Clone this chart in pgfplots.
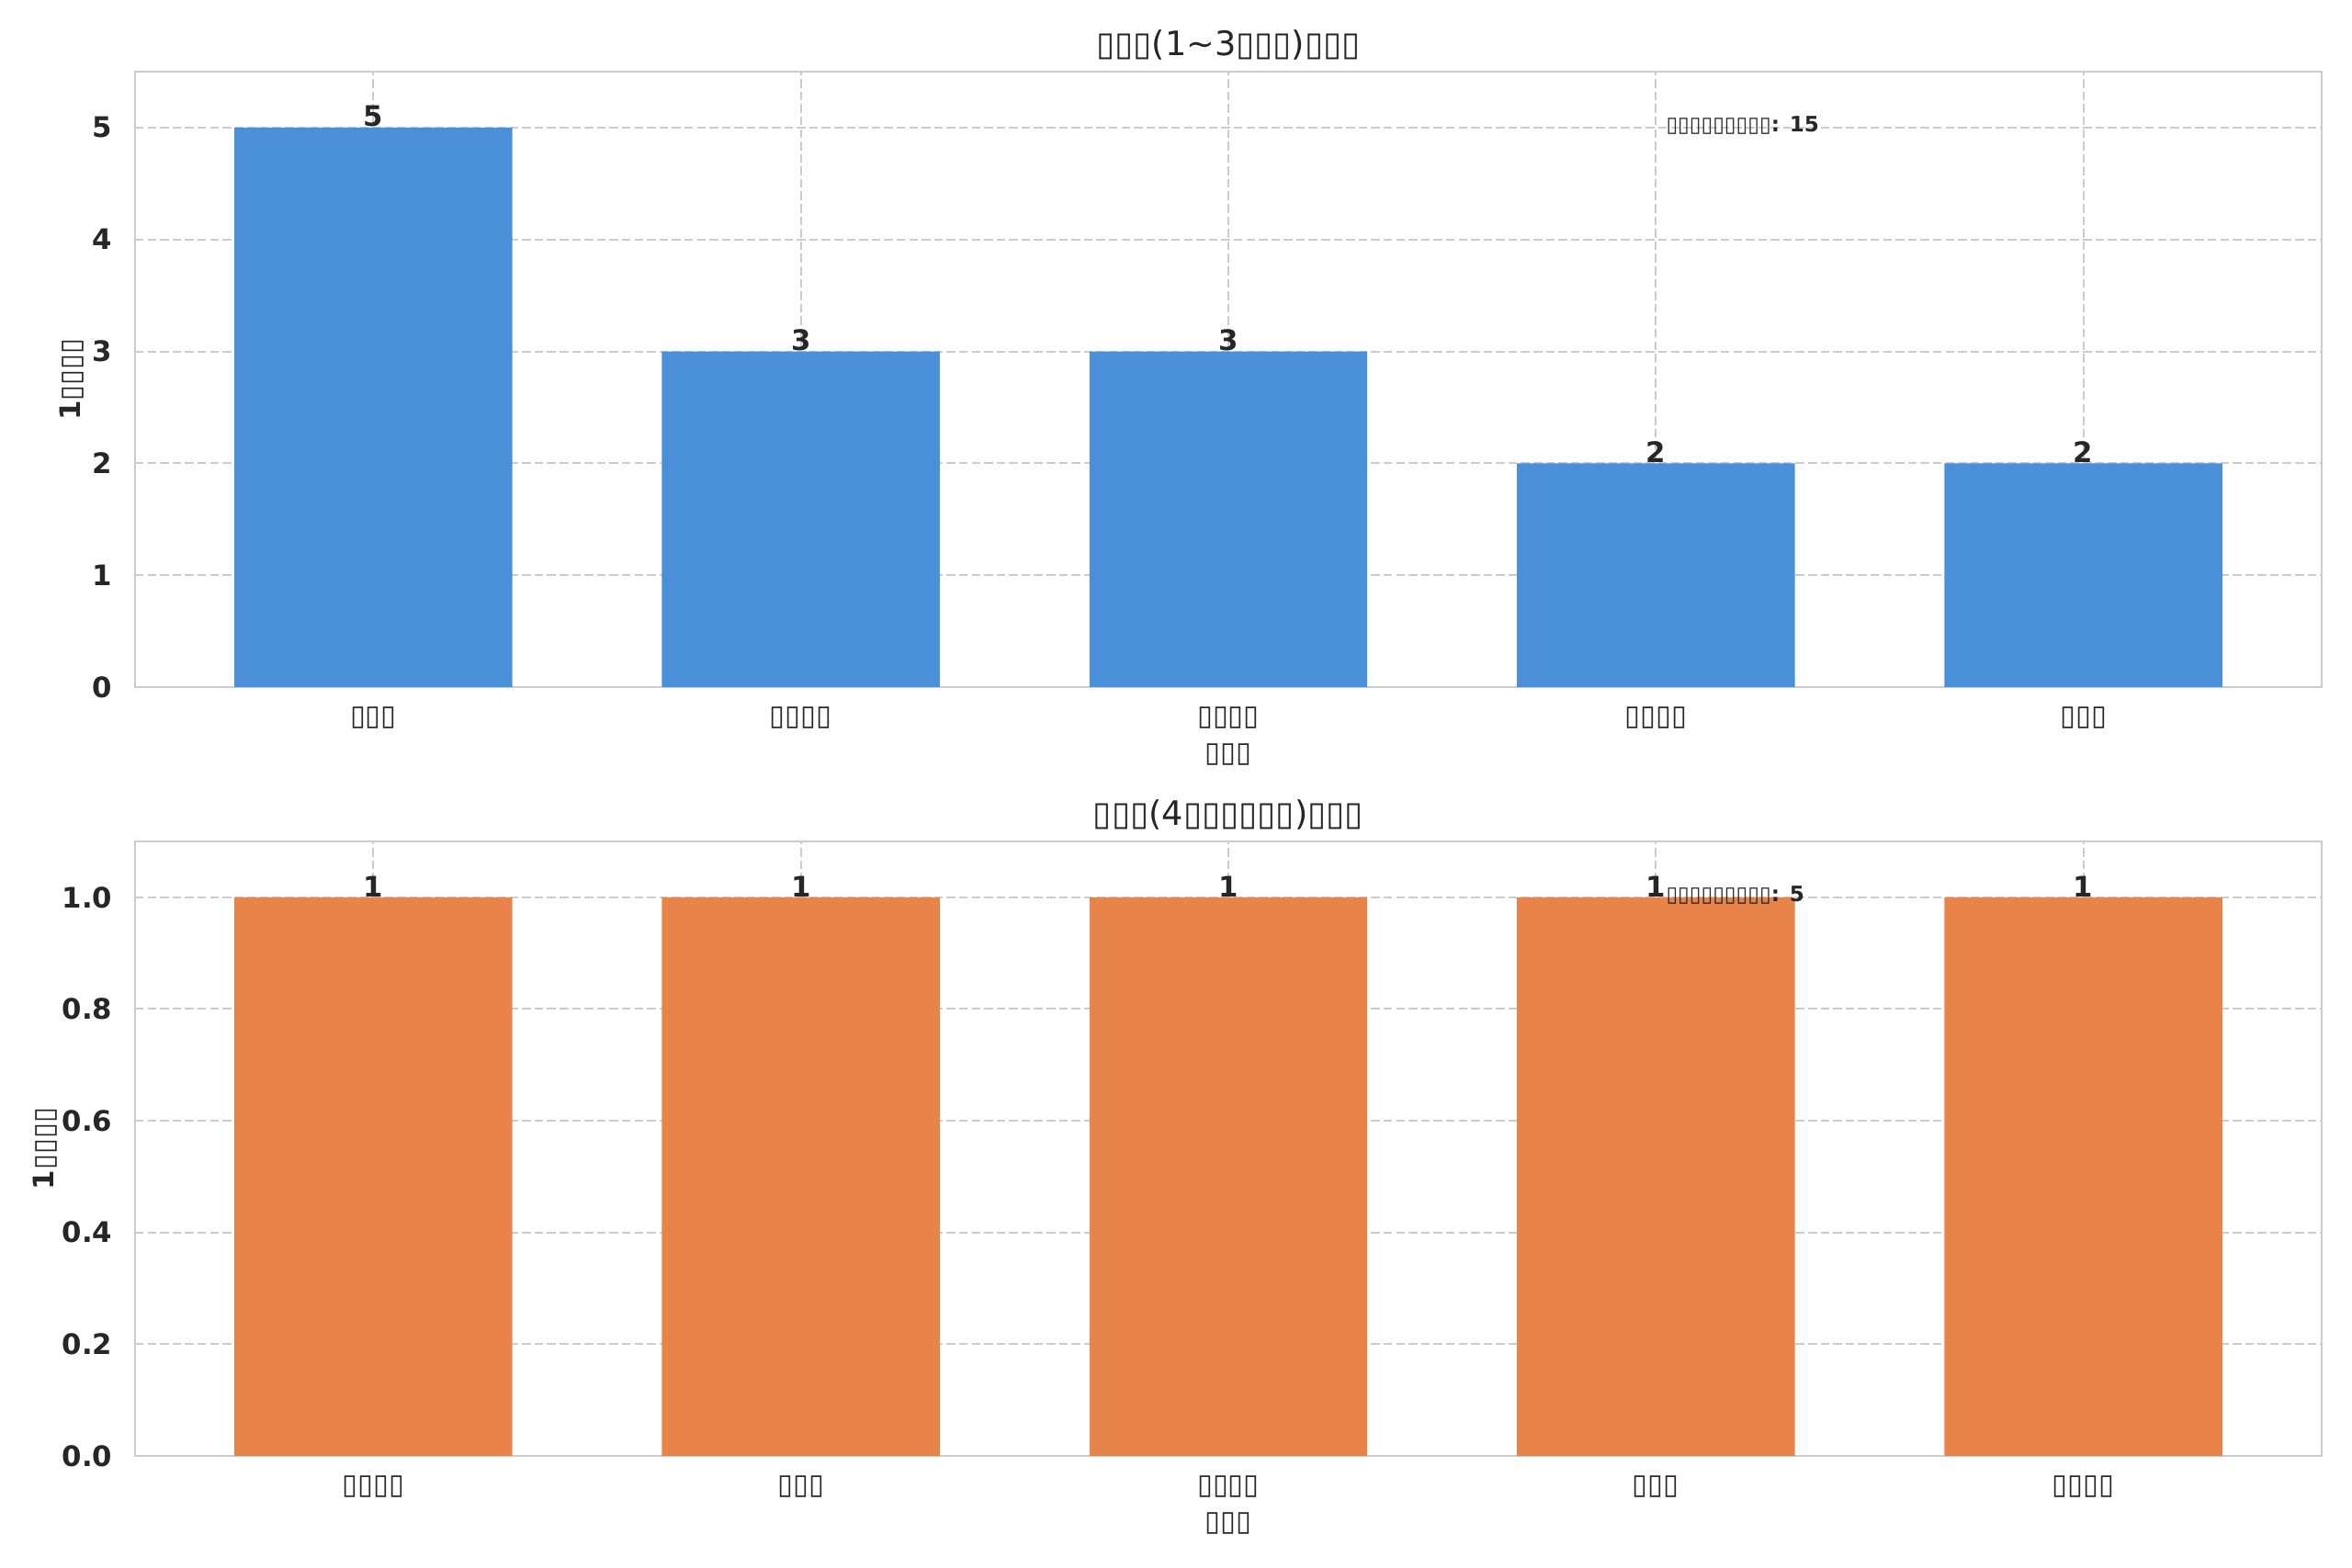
\documentclass[border=0pt]{standalone}
\usepackage{pgfplots}
\pgfplotsset{compat=1.18}
\usepackage{fontspec}
\setmainfont{DejaVu Sans}
\definecolor{txt}{HTML}{262626}
\definecolor{gridc}{HTML}{CCCCCC}
\definecolor{barblue}{HTML}{4A90D9}
\definecolor{barorange}{HTML}{E8844A}
\newcommand\tf{▯}
\pgfplotsset{
 mystyle/.style={
  scale only axis, width=928.2pt,
  xmin=-0.5575, xmax=4.5575, ymin=0,
  xtick={0,1,2,3,4},
  axis line style={gridc, line width=1pt},
  major tick length=0pt,
  xmajorgrids, ymajorgrids,
  grid style={gridc, line width=0.8pt, dash pattern=on 3.7pt off 1.6pt},
  /pgf/number format/assume math mode=true,
  xticklabel style={font=\fontsize{12}{14}\selectfont, text=txt, anchor=center, inner sep=0pt, yshift=-13pt},
  yticklabel style={font=\bfseries\fontsize{12}{14}\selectfont, text=txt, anchor=east, inner sep=0pt, xshift=-9.4pt},
  title style={font=\fontsize{14.3}{16}\selectfont, text=txt, at={(axis description cs:0.5,1)}, anchor=center, yshift=5.2pt},
  xlabel style={font=\fontsize{12}{14}\selectfont, text=txt, at={(axis description cs:0.5,0)}, anchor=center, yshift=-28.5pt},
  ylabel style={font=\fontsize{12}{14}\selectfont, text=txt, anchor=center},
  ybar, bar width=0.65, bar shift=0pt,
  nodes near coords,
  nodes near coords style={font=\bfseries\fontsize{12}{14}\selectfont, text=txt, anchor=south, inner sep=0pt},
 }
}
\begin{document}
\begin{tikzpicture}
\path[use as bounding box] (0,0) rectangle (998.4pt,665.73pt);
\begin{axis}[mystyle,
  at={(57.33pt,374.01pt)}, anchor=south west, height=261.3pt,
  ymax=5.5, ytick={0,1,2,3,4,5},
  xticklabels={\tf\tf\tf,\tf\tf\tf\tf,\tf\tf\tf\tf,\tf\tf\tf\tf,\tf\tf\tf},
  title={\tf\tf\tf(1\textasciitilde3\tf\tf\tf)\tf\tf\tf},
  xlabel={\tf\tf\tf},
  ylabel={\textbf{1}\tf\tf\tf\tf},
  ylabel style={at={(axis description cs:-0.0290,0.5)}},
]
\addplot[fill=barblue, draw=none] coordinates {(0,5) (1,3) (2,3) (3,2) (4,2)};
\node[anchor=west, font=\fontsize{9}{11}\selectfont, text=txt, inner sep=0pt] at (axis description cs:0.70,0.912) {\tf\tf\tf\tf\tf\tf\tf\tf\tf\textbf{: 15}};
\end{axis}
\begin{axis}[mystyle,
  at={(57.33pt,47.58pt)}, anchor=south west, height=260.9pt,
  ymax=1.1, ytick={0,0.2,0.4,0.6,0.8,1.0},
  yticklabel style={/pgf/number format/.cd, fixed, fixed zerofill, precision=1},
  xticklabels={\tf\tf\tf\tf,\tf\tf\tf,\tf\tf\tf\tf,\tf\tf\tf,\tf\tf\tf\tf},
  title={\tf\tf\tf(4\tf\tf\tf\tf\tf\tf)\tf\tf\tf},
  xlabel={\tf\tf\tf},
  ylabel={\textbf{1}\tf\tf\tf\tf},
  ylabel style={at={(axis description cs:-0.0412,0.5)}},
]
\addplot[fill=barorange, draw=none] coordinates {(0,1) (1,1) (2,1) (3,1) (4,1)};
\node[anchor=west, font=\fontsize{9}{11}\selectfont, text=txt, inner sep=0pt] at (axis description cs:0.70,0.912) {\tf\tf\tf\tf\tf\tf\tf\tf\tf\textbf{: 5}};
\end{axis}
\end{tikzpicture}
\end{document}
